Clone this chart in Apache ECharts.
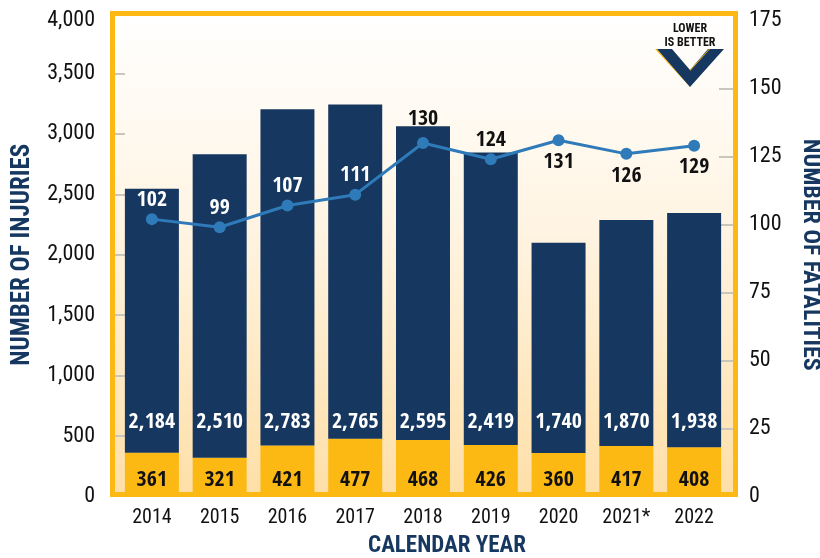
<!DOCTYPE html>
<html>
<head>
<meta charset="utf-8">
<style>html,body{margin:0;padding:0;background:#fff}#c{width:820px;height:558px}</style>
<script src="https://cdn.jsdelivr.net/npm/echarts@6/dist/echarts.min.js"></script>
</head>
<body>
<div id="c"></div>
<script>
const years = ['2014','2015','2016','2017','2018','2019','2020','2021*','2022'];
const seriousInjuries = [361,321,421,477,468,426,360,417,408];
const otherInjuries = [2184,2510,2783,2765,2595,2419,1740,1870,1938];
const fatalities = [102,99,107,111,130,124,131,126,129];
const leftTicks = [500,1000,1500,2000,2500,3000,3500];
const leftLabels = [0,500,1000,1500,2000,2500,3000,3500,4000];
const rightTicks = [25,50,75,100,125,150];
const rightLabels = [0,25,50,75,100,125,150,175];

const NAVY = '#16375F', GOLD = '#FDB913', LINE = '#2F7BB9';
const FONT = '"Roboto Condensed","Roboto",sans-serif';
const NARROW = '"Open Sans Condensed","Roboto Condensed",sans-serif';
const fmt = v => Number(v).toLocaleString('en-US');
const chart = echarts.init(document.getElementById('c'), null, {renderer:'canvas'});
chart.setOption({
  animation:false,
  backgroundColor:'#fff',
  textStyle:{fontFamily:FONT},
  grid:{left:118,right:92,top:13,height:483.5,outerBoundsMode:'none'},
  xAxis:{
    type:'category',data:years,
    axisLine:{show:false},axisTick:{show:false},
    axisLabel:{color:'#111',fontSize:20,margin:11,fontFamily:FONT},
    name:'CALENDAR YEAR',nameLocation:'middle',nameGap:38,
    nameTextStyle:{color:NAVY,fontSize:23,fontWeight:'bold',fontFamily:FONT,padding:[0,0,0,48]}
  },
  yAxis:[{
    type:'value',min:0,max:4000,interval:500,offset:3,
    splitLine:{show:false},axisLine:{show:false},
    axisTick:{show:true,inside:true,length:10,customValues:leftTicks,lineStyle:{color:'#C9C6BE',width:2}},
    axisLabel:{color:'#111',fontSize:22,margin:20,customValues:leftLabels,fontFamily:FONT,
      formatter:v=>v===4000?`{top|${fmt(v)}}`:fmt(v),
      rich:{top:{color:'#111',fontSize:22,fontFamily:FONT,padding:[14,0,0,0]}}},
    name:'NUMBER OF INJURIES',nameLocation:'middle',nameGap:80,nameRotate:90,
    nameTextStyle:{color:NAVY,fontSize:25,fontWeight:'bold',fontFamily:FONT}
  },{
    type:'value',min:0,max:177.8,interval:25,offset:5,position:'right',
    splitLine:{show:false},axisLine:{show:false},
    axisTick:{show:true,inside:true,length:14,customValues:rightTicks,lineStyle:{color:'#C9C6BE',width:2}},
    axisLabel:{color:'#111',fontSize:22,margin:16,customValues:rightLabels,fontFamily:FONT},
    name:'NUMBER OF FATALITIES',nameLocation:'middle',nameGap:65,nameRotate:-90,
    nameTextStyle:{color:NAVY,fontSize:24,fontWeight:'bold',fontFamily:FONT}
  }],
  graphic:{elements:[
    {type:'rect',z:-10,silent:true,shape:{x:115,y:16,width:618,height:476},
      style:{fill:new echarts.graphic.LinearGradient(0,0,0,1,[
        {offset:0,color:'#FFFFFF'},{offset:0.45,color:'#FFF4E2'},{offset:1,color:'#FEDFA8'}])}},
    {type:'rect',z:100,silent:true,shape:{x:112.5,y:13.5,width:623,height:481},
      style:{fill:'none',stroke:GOLD,lineWidth:5}},
    {type:'polygon',z:101,silent:true,shape:{points:[[655,49],[657,49],[690,86],[690,87]]},style:{fill:GOLD}},
    {type:'polygon',z:102,silent:true,shape:{points:[[657,49],[672,49],[690,70],[708,49],[724,49],[690,87]]},style:{fill:NAVY}},
    {type:'polygon',z:103,silent:true,shape:{points:[[690,70],[709,49],[710,49],[690,71]]},style:{fill:GOLD}},
    {type:'text',z:104,silent:true,style:{x:690,y:29,text:'LOWER',align:'center',verticalAlign:'middle',fill:'#111',font:'bold 12px '+FONT}},
    {type:'text',z:104,silent:true,style:{x:690,y:43,text:'IS BETTER',align:'center',verticalAlign:'middle',fill:'#111',font:'bold 12px '+FONT}}
  ]},
  series:[{
    name:'Serious injuries',type:'bar',stack:'inj',barWidth:54,z:2,
    data:seriousInjuries,itemStyle:{color:GOLD},
    label:{
      show:true,position:'insideBottom',distance:4,
      formatter:p=>`{n|${fmt(otherInjuries[p.dataIndex])}}\n{o|${p.value}}`,
      rich:{
        n:{color:'#fff',fontSize:22,fontWeight:'bold',lineHeight:92,fontFamily:NARROW,align:'center'},
        o:{color:'#111',fontSize:22,fontWeight:'bold',lineHeight:24,fontFamily:NARROW,align:'center'}
      }
    }
  },{
    name:'Other injuries',type:'bar',stack:'inj',barWidth:54,z:2,
    data:otherInjuries,itemStyle:{color:NAVY}
  },{
    name:'Fatalities',type:'line',yAxisIndex:1,z:5,
    symbol:'circle',symbolSize:12,
    lineStyle:{color:LINE,width:3},itemStyle:{color:LINE},
    data:fatalities.map((v,i)=>({
      value:v,
      label:{
        position:i<6?'top':'bottom',
        distance:i===4?7:(i<6?2:5),
        color:i<4?'#fff':'#111'
      }
    })),
    label:{show:true,fontSize:22,fontWeight:'bold',fontFamily:NARROW}
  }]
});
</script>
</body>
</html>
